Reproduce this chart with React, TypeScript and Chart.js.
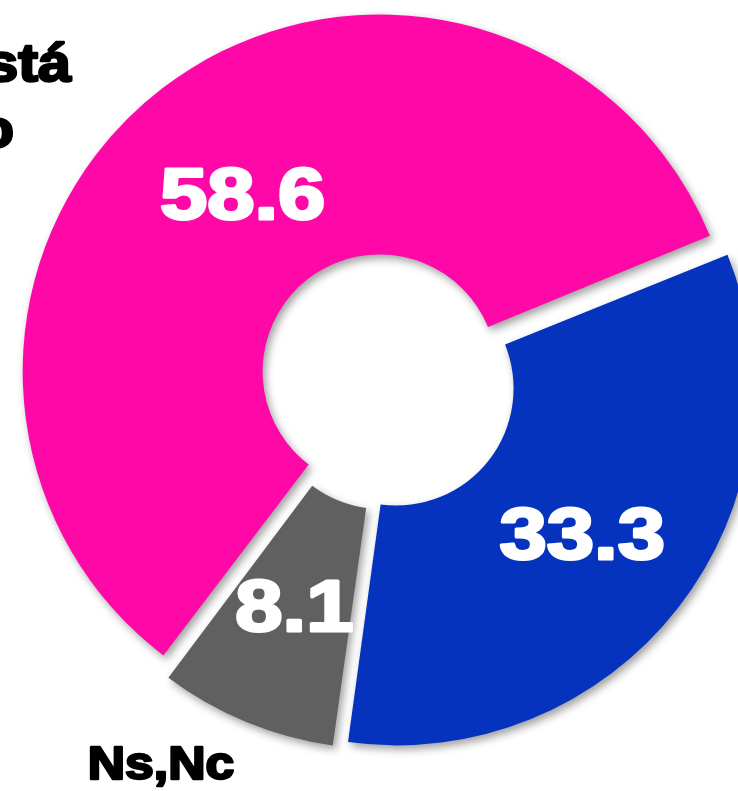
import React, { useEffect, useRef } from 'react';
import { Chart, registerables } from 'chart.js';

Chart.register(...registerables);

// ---- data ----
const categories = ['Sí está de acuerdo', 'No está de acuerdo', 'Ns,Nc'];
const values = [58.6, 33.3, 8.1];
const valueLabels = ['58.6', '33.3', '8.1'];
const categoryLines = [['Sí está', 'de acuerdo'], ['No está', 'de acuerdo'], ['Ns,Nc']];
const colors = ['#FF08A8', '#0533BE', '#606060'];

// ---- layout ----
const PAGE_W = 738;
const PAGE_H = 791;
const CENTER_X = 387; // page coords of the pie centre
const CENTER_Y = 381;
const CANVAS_W = 774;
const CANVAS_H = 820;
const CANVAS_LEFT = CENTER_X - CANVAS_W / 2;
const CANVAS_TOP = CENTER_Y - CANVAS_H / 2;
const RADIUS = 357;
const CUTOUT = '32.8%';
const EXPLODE = 48; // Chart.js arc offset (translation = offset / 4)
const ROTATION = 217;
const FONT = '"Liberation Sans", Arial, sans-serif';

// outside category label anchors (page coords), one per line; null = off-screen
const categoryAnchors: ({ x: number; y: number; align: CanvasTextAlign }[] | null)[] = [
  [
    { x: 71, y: 81, align: 'right' },
    { x: 14, y: 147, align: 'right' },
  ],
  null,
  [{ x: 161, y: 779, align: 'center' }],
];

function heavyText(ctx: CanvasRenderingContext2D, text: string, x: number, y: number, color: string, lw: number) {
  ctx.fillStyle = color;
  ctx.strokeStyle = color;
  ctx.lineWidth = lw;
  ctx.lineJoin = 'round';
  ctx.strokeText(text, x, y);
  ctx.fillText(text, x, y);
}

const explodePlugin = {
  id: 'explodeStyle',
  afterDatasetUpdate(_chart: any, args: any) {
    const t = EXPLODE / 4;
    args.meta.data.forEach((arc: any) => {
      const fix = 1 - Math.sin(Math.min(Math.PI, arc.circumference || 0));
      arc.outerRadius -= t * fix;
      arc.innerRadius -= t * fix;
    });
  },
  beforeDatasetsDraw(chart: any) {
    const ctx = chart.ctx;
    ctx.save();
    ctx.shadowColor = 'rgba(0,0,0,0.38)';
    ctx.shadowBlur = 9;
    ctx.shadowOffsetX = 3;
    ctx.shadowOffsetY = 4;
  },
  afterDatasetsDraw(chart: any) {
    const ctx = chart.ctx;
    ctx.restore();
    const t = EXPLODE / 4;
    const meta = chart.getDatasetMeta(0);
    meta.data.forEach((arc: any, i: number) => {
      const { x, y, startAngle, endAngle, innerRadius, outerRadius } = arc;
      const mid = (startAngle + endAngle) / 2;
      const r = (innerRadius + outerRadius) / 2 + t;
      const lx = x + Math.cos(mid) * r;
      const ly = y + Math.sin(mid) * r;
      const size = 72;
      ctx.save();
      ctx.font = `bold ${size}px ${FONT}`;
      ctx.textAlign = 'center';
      ctx.textBaseline = 'alphabetic';
      ctx.translate(lx, ly);
      ctx.scale(1.18, 1);
      heavyText(ctx, valueLabels[i], 0, size * 0.36, '#ffffff', 3);
      ctx.restore();
    });
    // outside category labels
    categoryLines.forEach((lines, i) => {
      const anchors = categoryAnchors[i];
      if (!anchors) return;
      lines.forEach((line, j) => {
        const a = anchors[j];
        if (!a) return;
        const size = i === 2 ? 47 : 54;
        ctx.save();
        ctx.font = `bold ${size}px ${FONT}`;
        ctx.textAlign = a.align;
        ctx.textBaseline = 'alphabetic';
        ctx.translate(a.x - CANVAS_LEFT, a.y - CANVAS_TOP);
        ctx.scale(1.1, 1);
        heavyText(ctx, line, 0, 0, '#000000', 2.5);
        ctx.restore();
      });
    });
  },
};

export default function App() {
  const ref = useRef<HTMLCanvasElement | null>(null);

  useEffect(() => {
    if (!ref.current) return;
    const chart = new Chart(ref.current, {
      type: 'doughnut',
      data: {
        labels: categories,
        datasets: [
          {
            data: values,
            backgroundColor: colors,
            borderWidth: 0,
            offset: EXPLODE,
            hoverOffset: 0,
          },
        ],
      },
      options: {
        responsive: false,
        animation: false,
        events: [],
        radius: RADIUS,
        cutout: CUTOUT,
        rotation: ROTATION,
        layout: { padding: 0 },
        plugins: {
          legend: { display: false },
          tooltip: { enabled: false },
          title: { display: false },
        },
      } as any,
      plugins: [explodePlugin as any],
    });
    return () => chart.destroy();
  }, []);

  return (
    <div
      style={{
        position: 'fixed',
        left: 0,
        top: 0,
        width: PAGE_W,
        height: PAGE_H,
        overflow: 'hidden',
        background: '#ffffff',
      }}
    >
      <canvas
        ref={ref}
        width={CANVAS_W}
        height={CANVAS_H}
        style={{
          position: 'absolute',
          left: CANVAS_LEFT,
          top: CANVAS_TOP,
          width: CANVAS_W,
          height: CANVAS_H,
          display: 'block',
        }}
      />
    </div>
  );
}
